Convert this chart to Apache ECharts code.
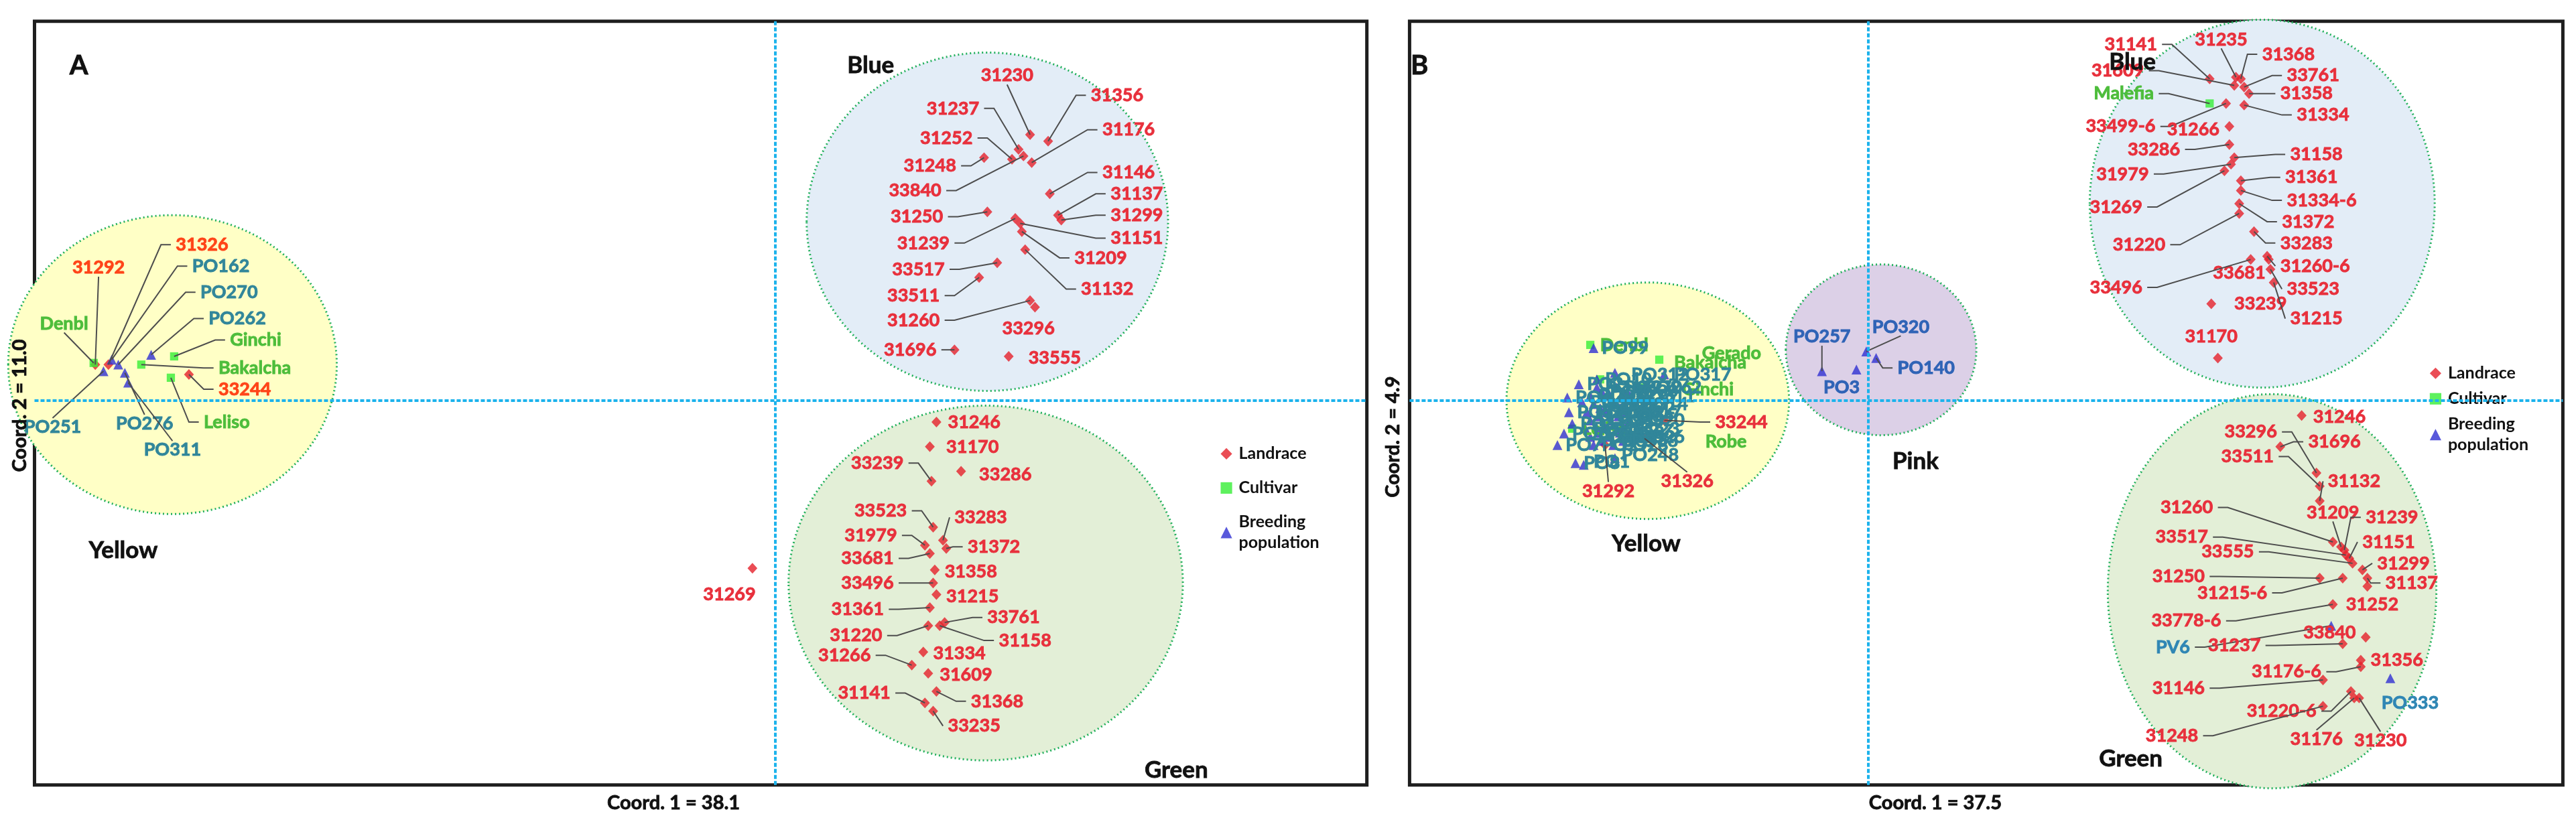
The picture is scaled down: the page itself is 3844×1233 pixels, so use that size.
<!DOCTYPE html>
<html><head><meta charset="utf-8">
<script src="https://cdn.jsdelivr.net/npm/echarts@6/dist/echarts.min.js"></script>
<style>html,body{margin:0;padding:0;background:#fff}#c{width:3844px;height:1233px}</style>
</head><body><div id="c"></div>
<script>
// ---------- DATA: Panel A (Coord.1 = 38.1, Coord.2 = 11.0) ----------
const aBlueLandrace = [['31230',15.5,16.2],['31356',16.6,15.8],['31237',14.8,15.3],['31176',15.6,14.5],['31252',14.4,14.7],['31248',12.7,14.8],['33840',15.1,14.9],['31146',16.7,12.6],['31137',17.2,11.3],['31299',17.4,11.0],['31250',12.9,11.5],['31151',14.9,10.8],['31239',14.6,11.1],['31209',15.0,10.3],['33517',13.5,8.4],['31132',15.2,9.2],['33511',12.4,7.5],['31260',15.5,6.1],['33296',15.8,5.7],['31696',10.9,3.1],['33555',14.2,2.7]];
const aGreenLandrace = [['31246',9.8,-1.3],['31170',9.4,-2.8],['33239',9.5,-4.9],['33286',11.3,-4.3],['33523',9.6,-7.7],['33283',10.2,-8.5],['31979',9.1,-8.8],['31372',10.4,-9.0],['33681',9.4,-9.3],['31358',9.7,-10.3],['33496',9.6,-11.1],['31215',9.8,-11.8],['31361',9.4,-12.6],['33761',10.3,-13.5],['31220',9.3,-13.7],['31158',10.0,-13.7],['31334',9.0,-15.3],['31266',8.3,-16.1],['31609',9.3,-16.6],['31368',9.8,-17.7],['31141',9.1,-18.4],['33235',9.6,-18.9]];
const aOtherLandrace = [['31269',-1.4,-10.2]];
const aYellowLandrace = [['31292',-41.4,2.2],['31326',-40.6,2.2],['33244',-35.7,1.6]];
const aCultivar = [['Denbl',-41.5,2.3],['Ginchi',-36.6,2.7],['Bakalcha',-38.6,2.2],['Leliso',-36.8,1.4]];
const aBreeding = [['PO162',-40.4,2.5],['PO270',-40.0,2.2],['PO262',-38.0,2.8],['PO251',-40.9,1.8],['PO276',-39.6,1.7],['PO311',-39.4,1.1]];
const aClusters = [['Yellow',-36.7,2.2,10.0,9.1],['Blue',12.9,10.9,11.0,10.3],['Green',12.8,-11.1,12.0,10.8]];
const aAxis = {xMin:-45.1, xMax:36.0, yMin:-23.4, yMax:23.1};

// ---------- DATA: Panel B (Coord.1 = 37.5, Coord.2 = 4.9) ----------
const bBlueLandrace = [['31141',20.8,19.6],['31235',22.4,19.7],['31368',22.7,19.6],['31609',22.3,19.2],['33761',22.9,19.1],['31358',23.2,18.7],['31334',22.9,18.0],['33499-6',21.8,18.1],['31266',22.0,16.7],['33286',22.0,15.6],['31158',22.3,14.8],['31979',22.1,14.4],['31269',21.7,14.0],['31361',22.7,13.4],['31334-6',22.7,12.8],['31372',22.6,12.0],['31220',22.6,11.4],['33283',23.5,10.3],['33681',24.4,8.6],['31260-6',24.3,8.8],['33496',23.3,8.6],['33523',24.5,8.0],['33239',20.9,5.9],['31215',24.7,7.2],['31170',21.3,2.6]];
const bGreenLandrace = [['31246',26.4,-0.9],['31696',25.1,-2.8],['33296',27.3,-4.4],['33511',27.5,-5.2],['31132',27.5,-6.1],['31260',28.3,-8.6],['31209',28.8,-8.9],['31239',29.0,-9.1],['33517',29.1,-9.4],['31151',29.3,-9.6],['33555',29.5,-9.9],['31299',30.1,-10.3],['31250',27.5,-10.8],['31215-6',28.9,-10.8],['31137',30.4,-10.8],['31252',30.4,-11.3],['33778-6',28.3,-12.4],['33840',30.3,-14.4],['31237',28.9,-14.8],['31356',30.0,-15.8],['31176-6',30.0,-16.2],['31146',27.7,-17.0],['31220-6',29.4,-17.7],['31248',27.7,-18.6],['31176',29.6,-18.1],['31230',29.9,-18.1]];
const bYellowLandrace = [['31292',-16.0,-2.7],['31326',-13.6,-2.3],['33244',-12.4,-1.2]];
const bCultivar = [['Malefia',20.8,18.1],['Gerado',-12.7,2.5],['Bakalcha',-16.3,1.3],['Denbl',-16.9,3.4],['Ginchi',-13.7,0.8],['Robe',-14.7,-2.1],['Leliso',-18.0,-1.7]];
const bPinkBreeding = [['PO257',-2.8,1.8],['PO3',-0.7,1.9],['PO320',-0.1,3.0],['PO140',0.5,2.6]];
const bGreenBreeding = [['PV6',28.2,-13.7],['PO333',31.8,-16.9]];
const bYellowBreeding = [['PO99',-16.7,3.2],['PO317',-12.4,1.6],['PO312',-15.4,1.7],['PO1',-17.3,-3.9],['PO248',-15.4,-3.5],['PO2',-17.6,1.0],['PO4',-18.3,0.2],['PO5',-18.2,-0.7],['PO6',-18.5,-2.0],['PO7',-18.9,-2.7],['PO8',-17.8,-3.8],['PO9',-17.4,-0.1],['PO10',-16.5,1.3],['PO11',-18.0,-1.4],['PO162',-16.5,0.8],['PO270',-15.3,0.8],['PO262',-14.1,0.8],['PO251',-16.9,0.3],['PO276',-15.7,0.3],['PO311',-14.5,0.3],['PO12',-16.7,-0.2],['PO13',-15.5,-0.2],['PO14',-14.3,-0.2],['PO15',-17.1,-0.7],['PO16',-15.9,-0.7],['PO17',-14.7,-0.7],['PO18',-16.9,-1.2],['PO19',-15.7,-1.2],['PO20',-14.5,-1.2],['PO21',-17.2,-1.7],['PO22',-16.0,-1.7],['PO23',-14.8,-1.7],['PO24',-16.9,-2.2],['PO25',-15.7,-2.2],['PO26',-14.5,-2.2],['PO27',-16.7,-2.7],['PO28',-15.5,-2.7],['PO29',-16.2,0.55],['PO30',-14.9,0.55],['PO31',-16.3,-0.45],['PO32',-15.1,-0.45],['PO33',-16.4,-0.95],['PO34',-15.2,-0.95],['PO35',-16.4,-1.95],['PO36',-15.1,-1.95],['PO37',-16.2,-2.45],['PO38',-14.9,-2.45]];
const bClusters = [['Yellow',-13.4,0.0,8.6,7.2],['Pink',0.8,3.1,5.8,5.2],['Blue',24.0,12.0,10.5,11.2],['Green',24.6,-11.6,10.0,12.0]];
const bAxis = {xMin:-27.9, xMax:42.3, yMin:-23.4, yMax:23.1};

const legendNames = ['Landrace','Cultivar','Breeding population'];

// ---------- LAYOUT (reference units, scaled to page) ----------
const S = 3844 / 1568;
const U = v => v * S;
const gridA = {left:21, top:13, width:811, height:465};
const gridB = {left:858, top:13, width:702, height:465};

// label placement: [mode, dx, dy, leader]  (l = left of point, r = right, a = above, b = below)
const aLabelLayout = {
 '31230':['a',-14,-36,1],'31356':['r',26,-28,1],'31237':['l',-24,-25,1],'31176':['r',43,-20,1],'31252':['l',-24,-13,1],'31248':['l',-17,5,1],'33840':['l',-50,21,1],'31146':['r',32,-13,1],'31137':['r',32,-13,1],'31299':['r',30,-3,1],'31250':['l',-27,3,1],'31151':['r',55,9,1],'31239':['l',-40,15,1],'31209':['r',32,16,1],'33517':['l',-32,4,1],'31132':['r',34,24,1],'33511':['l',-24,11,1],'31260':['l',-55,12,1],'33296':['b',-4,13,0],'31696':['l',-11,0,1],'33555':['r',12,1,0],
 '31246':['r',7,0,0],'31170':['r',10,0,0],'33239':['l',-17,-11,1],'33286':['r',11,2,0],'33523':['l',-16,-10,1],'33283':['r',7,-14,1],'31979':['l',-17,-6,1],'31372':['r',13,-1,1],'33681':['l',-22,3,1],'31358':['r',6,1,0],'33496':['l',-24,0,1],'31215':['r',6,1,0],'31361':['l',-28,1,1],'33761':['r',26,-3,1],'31220':['l',-28,6,1],'31158':['r',36,9,1],'31334':['r',6,1,0],'31266':['l',-25,-6,1],'31609':['r',7,1,0],'31368':['r',21,6,1],'31141':['l',-21,-6,1],'33235':['r',9,9,1],
 '31269':['b',-14,16,0],
 '31292':['a',2,-59,1],'31326':['r',41,-73,1],'33244':['r',18,9,1],
 'PO162':['r',49,-57,1],'PO270':['r',50,-44,1],'PO262':['r',35,-22,1],'PO251':['b',-31,34,1],'PO276':['b',12,31,1],'PO311':['b',27,41,1],
 'Denbl':['a',-18,-24,1],'Ginchi':['r',34,-10,1],'Bakalcha':['r',47,2,1],'Leliso':['r',20,27,1]
};
const bLabelLayout = {
 '31141':['l',-32,-21,1],'31235':['a',-9,-23,1],'31368':['r',13,-15,1],'31609':['l',-55,-9,1],'33761':['r',26,-7,1],'31358':['r',19,0,1],'31334':['r',32,6,1],'33499-6':['l',-43,14,1],'31266':['l',-6,2,0],'33286':['l',-30,3,1],'31158':['r',34,-2,1],'31979':['l',-50,6,1],'31269':['l',-50,22,1],'31361':['r',27,-2,1],'31334-6':['r',28,6,1],'31372':['r',26,11,1],'31220':['l',-45,19,1],'33283':['r',16,7,1],'33681':['l',-2,8,0],'31260-6':['r',8,6,1],'33496':['l',-66,17,1],'33523':['r',10,12,1],'33239':['r',14,0,0],'31215':['r',10,22,1],'31170':['a',-4,-13,0],
 'Malefia':['l',-34,-6,1],
 '31246':['r',7,1,0],'31696':['r',17,-3,1],'33296':['l',-24,-25,1],'33511':['l',-28,-18,1],'31132':['r',5,-12,1],'31260':['l',-73,-21,1],'31209':['a',-5,-21,1],'31239':['r',13,-20,1],'33517':['l',-84,-11,1],'31151':['r',8,-10,1],'33555':['l',-60,-7,1],'31299':['r',9,-4,1],'31250':['l',-70,-1,1],'31215-6':['l',-46,9,1],'31137':['r',11,3,1],'31252':['b',3,11,0],'33778-6':['l',-68,10,1],'33840':['l',-6,-3,0],'31237':['l',-50,1,1],'31356':['r',6,0,0],'31176-6':['l',-24,3,1],'31146':['l',-72,5,1],'31220-6':['l',-21,12,1],'31248':['l',-76,18,1],'31176':['b',-23,25,1],'31230':['b',13,26,1],
 'PV6':['l',-86,13,1],'PO333':['b',12,15,0],
 'PO257':['a',0,-21,1],'PO3':['b',-9,11,0],'PO320':['a',21,-15,1],'PO140':['r',13,6,1],
 '31292':['b',2,28,1],'31326':['b',26,26,1],'33244':['r',31,1,1],
 'Gerado':['r',26,-4,0],'Bakalcha':['r',45,-10,0],'Denbl':['r',6,0,0],'Ginchi':['r',24,1,0],'Robe':['r',48,4,0],'Leliso':['r',6,0,0],
 'PO317':['r',6,0,0],'PO312':['r',10,1,0],'PO1':['r',6,-2,0],'PO248':['r',4,-2,0]
};

const LABEL_COLOR = {landrace:'#e8303c', cultivar:'#4dbd3b', breeding:'#31869a'};
const aColorOverride = {'31292':'#ff4418','31326':'#ff4418','33244':'#ff4418'};
const bColorOverride = {'PO257':'#2f63b6','PO3':'#2f63b6','PO320':'#2f63b6','PO140':'#2f63b6','PV6':'#2f86b4','PO333':'#2f86b4'};
const CLUSTER_FILL = {Yellow:'#ffffc6', Blue:'#e3edf7', Green:'#e3efd7', Pink:'#dcd0e7'};
const LABEL_FONT = 'bold 27px Lato';

function labelItems(groups, layout, overrides) {
  const items = [];
  for (const [kind, arr] of groups) for (const [name, x, y] of arr) {
    const lay = layout[name] || ['r', 5, 0, 0];
    items.push({name, x, y, mode: lay[0], dx: lay[1], dy: lay[2], leader: lay[3], color: overrides[name] || LABEL_COLOR[kind]});
  }
  return items;
}

function renderLabel(items) {
  return function (params, api) {
    const it = items[api.value(2)];
    const p = api.coord([api.value(0), api.value(1)]);
    const ax = p[0] + U(it.dx), ay = p[1] + U(it.dy);
    const children = [];
    let align = 'center';
    if (it.mode === 'l') align = 'right'; else if (it.mode === 'r') align = 'left';
    if (it.leader) {
      let pts;
      if (it.mode === 'l' || it.mode === 'r') {
        const sg = it.mode === 'l' ? 1 : -1;
        const s0 = [ax + sg * U(3), ay], e0 = [ax + sg * U(9), ay];
        pts = ((p[0] - e0[0]) * sg > U(2)) ? [s0, e0, p] : [s0, p];
      } else {
        const sy = it.mode === 'a' ? ay + U(5.5) : ay - U(5.5);
        pts = [[ax, sy], p];
      }
      children.push({type:'polyline', shape:{points:pts}, style:{stroke:'#4d4d4d', lineWidth:2, fill:null}, silent:true});
    }
    children.push({type:'text', style:{text:it.name, x:ax, y:ay, fill:it.color, stroke:it.color, lineWidth:0.9,
      font:LABEL_FONT, align:align, verticalAlign:'middle'}, silent:true});
    return {type:'group', children};
  };
}

function renderEllipse(clusters) {
  return function (params, api) {
    const c = clusters[api.value(4)];
    const p = api.coord([api.value(0), api.value(1)]);
    const sz = api.size([api.value(2), api.value(3)]);
    return {type:'ellipse', shape:{cx:p[0], cy:p[1], rx:sz[0], ry:sz[1]},
      style:{fill:CLUSTER_FILL[c[0]], stroke:'#22b05c', lineWidth:3, lineDash:[2,4]}, silent:true};
  };
}

function panelSeries(idx, landrace, cultivar, breeding, clusters, items) {
  return [
    {type:'custom', xAxisIndex:idx, yAxisIndex:idx, z:1, silent:true, clip:false,
     renderItem: renderEllipse(clusters), data: clusters.map((c, i) => [c[1], c[2], c[3], c[4], i])},
    {type:'scatter', name:'Landrace', xAxisIndex:idx, yAxisIndex:idx, z:2, silent:true,
     symbol:'diamond', symbolSize:[U(6), U(6.5)], itemStyle:{color:'#e5202a'},
     data: landrace.map(d => [d[1], d[2]]),
     markLine:{silent:true, symbol:['none','none'], label:{show:false},
       lineStyle:{color:'#1cb3ec', width:4, type:[6,3]}, emphasis:{disabled:true},
       data:[{xAxis:0}, {yAxis:0}]}},
    {type:'scatter', name:'Cultivar', xAxisIndex:idx, yAxisIndex:idx, z:2, silent:true,
     symbol:'rect', symbolSize:U(5), itemStyle:{color:'#36ee36'}, data: cultivar.map(d => [d[1], d[2]])},
    {type:'scatter', name:'Breeding population', xAxisIndex:idx, yAxisIndex:idx, z:2, silent:true,
     symbol:'triangle', symbolSize:U(6), itemStyle:{color:'#2f2fd2'}, data: breeding.map(d => [d[1], d[2]])},
    {type:'custom', xAxisIndex:idx, yAxisIndex:idx, z:3, silent:true, clip:false,
     renderItem: renderLabel(items), data: items.map((it, i) => [it.x, it.y, i])}
  ];
}

const aLandrace = [...aBlueLandrace, ...aGreenLandrace, ...aOtherLandrace, ...aYellowLandrace];
const bBreeding = [...bYellowBreeding, ...bPinkBreeding, ...bGreenBreeding];
const bLandrace = [...bBlueLandrace, ...bGreenLandrace, ...bYellowLandrace];
const aItems = labelItems([['cultivar', aCultivar], ['breeding', aBreeding], ['landrace', aLandrace]], aLabelLayout, aColorOverride);
const bItems = labelItems([['cultivar', bCultivar], ['breeding', bBreeding], ['landrace', bLandrace]], bLabelLayout, bColorOverride);

function axisPair(ax, gi) {
  const base = {type:'value', gridIndex:gi, axisLine:{show:false}, axisTick:{show:false}, axisLabel:{show:false}, splitLine:{show:false}};
  return [Object.assign({}, base, {min:ax.xMin, max:ax.xMax}), Object.assign({}, base, {min:ax.yMin, max:ax.yMax})];
}
const [axA, ayA] = axisPair(aAxis, 0);
const [axB, ayB] = axisPair(bAxis, 1);

function grid(g) {
  return {left:U(g.left), top:U(g.top), width:U(g.width), height:U(g.height), show:true, borderColor:'#1e1e1e', borderWidth:5, backgroundColor:'#fff'};
}

// free texts: [text, x, y, fontSize, rotate]
const freeTexts = [
  ['A',48,40,40,0],['B',864,40,40,0],
  ['Blue',530,40,35,0],['Green',716,469,35,0],['Yellow',75,335,35,0],
  ['Blue',1298,38,35,0],['Green',1297,462,35,0],['Yellow',1002,331,35,0],['Pink',1166,281,35,0],
  ['Coord. 1 = 38.1',410,489,29,0],['Coord. 1 = 37.5',1178,489,29,0],
  ['Coord. 2 = 11.0',12,247,29,1],['Coord. 2 = 4.9',848,266,29,1]
];

function legend(left, top, gap) {
  return {left:U(left), top:U(top), orient:'vertical', padding:0, itemGap:gap, itemWidth:U(7), itemHeight:U(7),
    selectedMode:false, data:legendNames,
    formatter: n => n === 'Breeding population' ? 'Breeding\npopulation' : n,
    textStyle:{fontFamily:'Lato', fontWeight:'bold', fontSize:25, color:'#111', lineHeight:31, padding:[0,0,0,U(2)]}};
}

const chart = echarts.init(document.getElementById('c'), null, {renderer:'canvas'});
chart.setOption({
  animation:false,
  backgroundColor:'#ffffff',
  grid:[grid(gridA), grid(gridB)],
  xAxis:[axA, axB],
  yAxis:[ayA, ayB],
  legend:[legend(743, 270, 20), legend(1479, 221, 7)],
  graphic: freeTexts.map(t => ({type:'text', x:U(t[1]), y:U(t[2]), rotation: t[4] ? Math.PI/2 : 0, z:10, silent:true,
    style:{text:t[0], font:'bold ' + t[3] + 'px Lato', fill:'#111', stroke:'#111', lineWidth:0.8, align:'center', verticalAlign:'middle'}})),
  series:[
    ...panelSeries(0, aLandrace, aCultivar, aBreeding, aClusters, aItems),
    ...panelSeries(1, bLandrace, bCultivar, bBreeding, bClusters, bItems)
  ]
});
</script></body></html>
